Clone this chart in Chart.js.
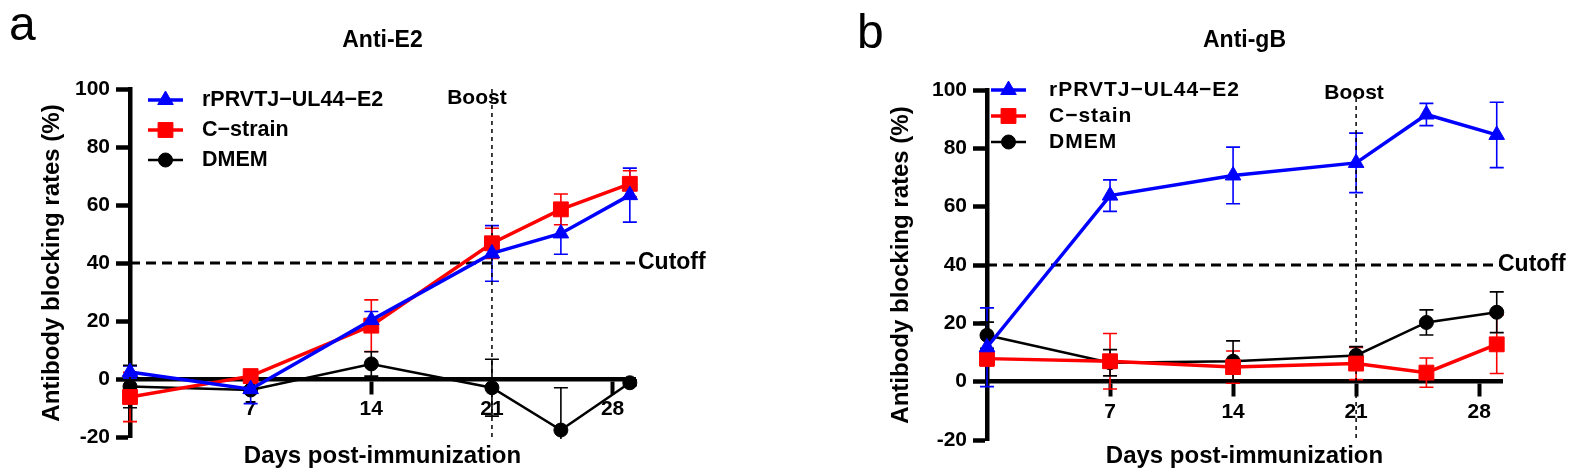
<!DOCTYPE html>
<html>
<head>
<meta charset="utf-8">
<script src="https://cdn.jsdelivr.net/npm/chart.js@4.4.1/dist/chart.umd.min.js"></script>
<style>
  html, body { margin: 0; padding: 0; background: #fff; }
  #wrap { position: relative; width: 1579px; height: 476px; overflow: hidden; }
  canvas { position: absolute; top: 0; }
  #chartE2 { left: 0; }
  #chartGB { left: 790px; }
</style>
</head>
<body>
<div id="wrap">
  <canvas id="chartE2" width="790" height="476"></canvas>
  <canvas id="chartGB" width="789" height="476"></canvas>
</div>
<script>
// --- dados ---
const days = [0, 7, 14, 21, 25, 29];
const dayTicks = [7, 14, 21, 28];
const rateTicks = [-20, 0, 20, 40, 60, 80, 100];
const cutoff = 40;
const boostDay = 21;

const namesE2 = ['rPRVTJ−UL44−E2', 'C−strain', 'DMEM'];
const namesGB = ['rPRVTJ−UL44−E2', 'C−stain', 'DMEM'];

// Anti-E2 (media e erro)
const e2Vaccine = [2.4, -3.5, 20.3, 43.3, 50.2, 63.4];
const e2VaccineErr = [2.1, 5.0, 3.0, 9.6, 7.2, 9.3];
const e2CStrain = [-6.2, 1.0, 18.4, 46.8, 58.5, 67.3];
const e2CStrainErr = [8.5, 1.2, 8.9, 5.2, 5.3, 4.5];
const e2Dmem = [-2.6, -3.8, 5.2, -3.0, -17.6, -1.3];
const e2DmemErr = [7.3, 1.0, 4.2, 9.8, 14.6, 1.0];

// Anti-gB
const gbVaccine = [11.8, 63.8, 70.7, 75.0, 91.6, 84.6];
const gbVaccineErr = [13.5, 5.4, 9.7, 10.2, 3.8, 11.2];
const gbCStrain = [7.9, 7.0, 5.0, 6.2, 3.1, 12.8];
const gbCStrainErr = [2.5, 9.5, 5.5, 5.5, 5.0, 10.0];
const gbDmem = [15.9, 6.5, 7.0, 9.0, 20.3, 23.8];
const gbDmemErr = [4.5, 4.5, 7.0, 3.0, 4.3, 7.0];

const FONT = "'Liberation Sans', Arial, sans-serif";
const colors = ['#0000ff', '#ff0000', '#000000'];
const markers = ['triangle', 'rect', 'circle'];
const markerSizes = [9, 10.5, 7];
const lineWidths = [3.5, 3.5, 2.5];

function makeDatasets(names, values, errors) {
    return names.map((name, i) => ({
        label: name,
        data: days.map((d, j) => ({ x: d, y: values[i][j] })),
        err: errors[i],
        borderColor: colors[i],
        backgroundColor: colors[i],
        borderWidth: lineWidths[i],
        pointStyle: markers[i],
        pointRadius: markerSizes[i],
        pointBorderWidth: 1,
        pointHoverRadius: markerSizes[i],
        tension: 0,
        clip: false
    }));
}

// barras de erro desenhadas pelas escalas
const errorBars = {
    id: 'errorBars',
    beforeDatasetsDraw(chart) {
        const { ctx, chartArea: a, scales: { x, y } } = chart;
        ctx.save();
        ctx.beginPath();
        ctx.rect(0, a.top - 2, chart.width, a.height + 4);
        ctx.clip();
        chart.data.datasets.forEach(ds => {
            ctx.strokeStyle = ds.borderColor;
            ctx.lineWidth = 1.6;
            ds.data.forEach((p, j) => {
                const e = ds.err[j];
                const px = x.getPixelForValue(p.x);
                const top = y.getPixelForValue(p.y + e);
                const bot = y.getPixelForValue(p.y - e);
                ctx.beginPath();
                ctx.moveTo(px, top); ctx.lineTo(px, bot);
                ctx.moveTo(px - 7, top); ctx.lineTo(px + 7, top);
                ctx.moveTo(px - 7, bot); ctx.lineTo(px + 7, bot);
                ctx.stroke();
            });
        });
        ctx.restore();
    }
};

// linha de corte, boost, legenda e textos
const decor = {
    id: 'decor',
    beforeDatasetsDraw(chart) {
        const { ctx, chartArea: a, scales: { x, y } } = chart;
        ctx.save();
        ctx.strokeStyle = '#000';
        ctx.lineWidth = 3;
        ctx.setLineDash([10, 6]);
        const cy = y.getPixelForValue(cutoff);
        ctx.beginPath(); ctx.moveTo(a.left, cy); ctx.lineTo(a.right, cy); ctx.stroke();

        ctx.lineWidth = 1.5;
        ctx.setLineDash([4, 4]);
        const bx = x.getPixelForValue(boostDay);
        ctx.beginPath(); ctx.moveTo(bx, a.top); ctx.lineTo(bx, a.bottom); ctx.stroke();
        ctx.restore();
    },
    afterDraw(chart, args, o) {
        const { ctx, chartArea: a, scales: { x, y } } = chart;
        ctx.save();
        ctx.fillStyle = '#000';

        // letra do painel
        ctx.textBaseline = 'alphabetic';
        ctx.textAlign = 'left';
        ctx.font = `48px ${FONT}`;
        ctx.fillText(o.letter, o.letterX, o.letterY);

        ctx.textBaseline = 'middle';
        ctx.textAlign = 'center';
        ctx.font = `bold 23px ${FONT}`;
        ctx.fillText(o.title, (a.left + a.right) / 2, 41);

        ctx.font = `bold 21px ${FONT}`;
        ctx.fillText('Boost', x.getPixelForValue(boostDay) + o.boostShift, a.top + o.boostTop);

        ctx.textAlign = 'left';
        ctx.font = `bold 23px ${FONT}`;
        ctx.fillText('Cutoff', a.right + o.cutoffShift, y.getPixelForValue(cutoff));

        // legenda dentro da area do grafico
        chart.data.datasets.forEach((ds, i) => {
            const cy = a.top + o.legendTop + i * o.legendGap;
            const x0 = a.left + o.legendLeft;
            ctx.strokeStyle = ds.borderColor;
            ctx.fillStyle = ds.backgroundColor;
            ctx.lineWidth = ds.borderWidth;
            ctx.beginPath(); ctx.moveTo(x0, cy); ctx.lineTo(x0 + 35, cy); ctx.stroke();
            ctx.lineWidth = 1;
            Chart.helpers.drawPoint(ctx, { pointStyle: ds.pointStyle, radius: ds.pointRadius, borderWidth: 1, rotation: 0 }, x0 + 17.5, cy);
            ctx.fillStyle = '#000';
            ctx.font = `bold ${o.legendSize}px ${FONT}`;
            ctx.letterSpacing = o.legendSpacing + 'px';
            ctx.fillText(ds.label, x0 + o.legendText, cy);
            ctx.letterSpacing = '0px';
        });
        ctx.restore();
    }
};

function buildChart(canvasId, names, values, errors, layout, decorOpts) {
    const tickFont = { family: FONT, size: 21, weight: 'bold' };
    const titleFont = { family: FONT, size: 24, weight: 'bold' };
    return new Chart(document.getElementById(canvasId), {
        type: 'line',
        data: { datasets: makeDatasets(names, values, errors) },
        plugins: [errorBars, decor],
        options: {
            responsive: false,
            animation: false,
            events: [],
            layout: { padding: layout.padding },
            plugins: {
                legend: { display: false },
                tooltip: { enabled: false },
                decor: decorOpts
            },
            scales: {
                x: {
                    type: 'linear',
                    min: 0,
                    max: 29.3,
                    position: { y: 0 },
                    afterBuildTicks: s => { s.ticks = dayTicks.map(v => ({ value: v })); },
                    grid: { drawOnChartArea: false, tickLength: 13, tickWidth: 4, tickColor: '#000' },
                    border: { display: true, color: '#000', width: 4.5 },
                    ticks: { color: '#000', font: tickFont, padding: 5, autoSkip: false, maxRotation: 0 },
                    title: { display: true, text: 'Days post-immunization', color: '#000', font: titleFont, padding: { top: layout.xTitlePad, bottom: 0 } }
                },
                y: {
                    min: -20,
                    max: 100,
                    afterBuildTicks: s => { s.ticks = rateTicks.map(v => ({ value: v })); },
                    afterFit: s => { s.width = layout.yWidth; },
                    grid: { drawOnChartArea: false, tickLength: 14, tickWidth: 4.5, tickColor: '#000' },
                    border: { display: true, color: '#000', width: 4.5 },
                    ticks: { color: '#000', font: tickFont, padding: 6 },
                    title: { display: true, text: 'Antibody blocking rates (%)', color: '#000', font: titleFont, padding: { top: layout.yTitlePad, bottom: 0 } }
                }
            }
        }
    });
}

buildChart('chartE2', namesE2,
    [e2Vaccine, e2CStrain, e2Dmem],
    [e2VaccineErr, e2CStrainErr, e2DmemErr],
    { padding: { top: 89, bottom: 39, left: 0, right: 155 }, yWidth: 130, yTitlePad: 38, xTitlePad: 15 },
    { letter: 'a', letterX: 9, letterY: 40, title: 'Anti-E2', boostTop: 9, boostShift: -15, cutoffShift: 3,
      legendTop: 11, legendGap: 30, legendLeft: 18, legendText: 54, legendSize: 21.5, legendSpacing: 0 });

buildChart('chartGB', namesGB,
    [gbVaccine, gbCStrain, gbDmem],
    [gbVaccineErr, gbCStrainErr, gbDmemErr],
    { padding: { top: 90, bottom: 36, left: 0, right: 77 }, yWidth: 197, yTitlePad: 97, xTitlePad: 12 },
    { letter: 'b', letterX: 67, letterY: 48, title: 'Anti-gB', boostTop: 3, boostShift: -2, cutoffShift: -4,
      legendTop: 0, legendGap: 26, legendLeft: 4, legendText: 58, legendSize: 21, legendSpacing: 1 });
</script>
</body>
</html>
